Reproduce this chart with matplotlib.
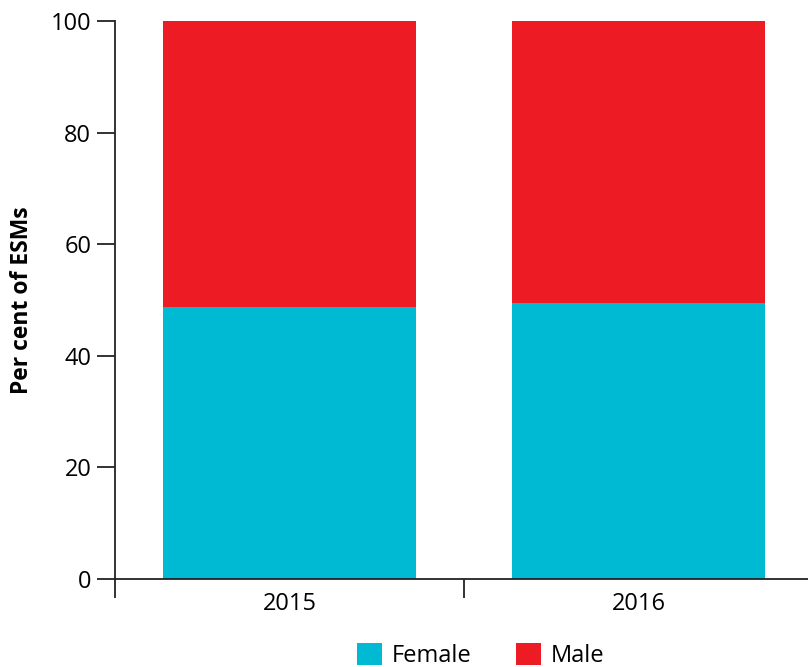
import numpy as np
import matplotlib as mpl
import matplotlib.pyplot as plt

# data
years = ['2015', '2016']
female = [48.7, 49.5]
male = [51.3, 50.5]

mpl.rcParams['font.family'] = ['Open Sans', 'DejaVu Sans']

fig = plt.figure(figsize=(8.08, 6.67), dpi=100)
ax = fig.add_axes([0.1423, 0.1319, 0.8577, 0.8366])

x = np.arange(len(years))
col_f = '#00B9D2'
col_m = '#ED1C24'
b1 = ax.bar(x, female, width=0.725, color=col_f, label='Female', zorder=2)
b2 = ax.bar(x, male, width=0.725, bottom=female, color=col_m, label='Male', zorder=2)

ax.set_xlim(-0.5, 1.485)
ax.set_ylim(0, 100)

#spines
for s in ['top', 'right']:
    ax.spines[s].set_visible(False)
for s in ['left', 'bottom']:
    ax.spines[s].set_linewidth(1.3)
    ax.spines[s].set_color('#222222')

ax.set_yticks(np.arange(0, 101, 20))
ax.tick_params(axis='y', direction='out', length=13, width=1.3, color='#222222',
               labelsize=17, pad=4)
#x ticks at category boundaries, labels at centres
ax.set_xticks([-0.5, 0.5], minor=False)
ax.set_xticklabels([])
ax.tick_params(axis='x', which='major', direction='out', length=14, width=1.3, color='#222222')
ax.set_xticks(x, minor=True)
ax.set_xticklabels(years, minor=True)
ax.tick_params(axis='x', which='minor', length=0, labelsize=17, pad=9)

ax.set_ylabel('Per cent of ESMs', fontsize=16.5, fontweight='bold', labelpad=12)

leg = fig.legend(handles=[b1, b2], loc='lower center', bbox_to_anchor=(0.595, -0.034),
                 ncol=2, frameon=False, fontsize=17, handlelength=1.05, handleheight=1.05,
                 columnspacing=1.9, handletextpad=0.4)

plt.savefig('out.png', dpi=100)
